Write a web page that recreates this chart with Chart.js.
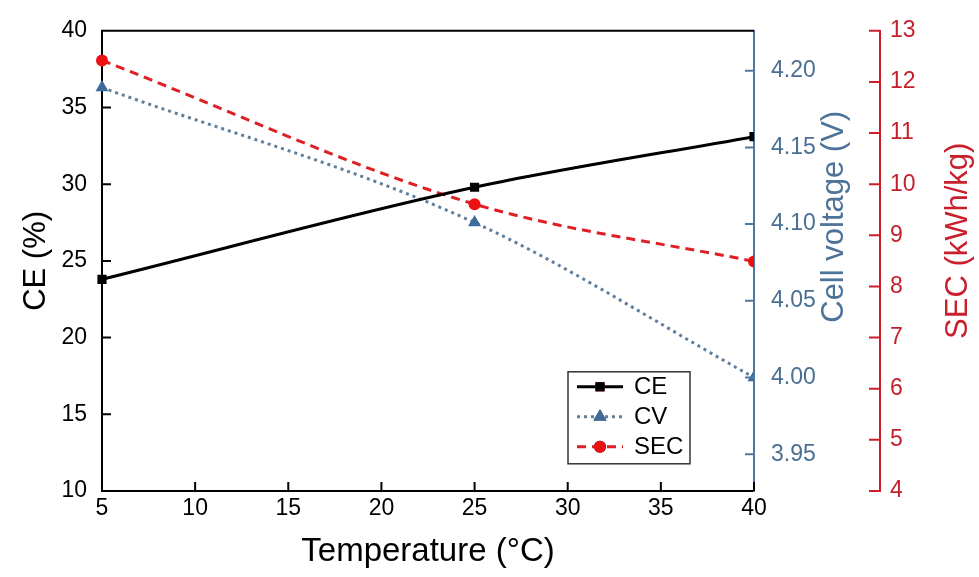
<!DOCTYPE html>
<html lang="en">
<head>
  <meta charset="UTF-8">
  <title>CE, cell voltage and SEC vs temperature</title>
  <script src="https://cdn.jsdelivr.net/npm/chart.js"></script>
  <style>
    body {
      margin: 0;
      background: #fff;
    }
    #wrap {
      width: 979px;
      height: 577px;
    }
  </style>
</head>
<body>
  <div id="wrap">
    <canvas id="grafico" width="979" height="577"></canvas>
  </div>

  <script>
    // datos
    const temperatures = [5, 25, 40];
    const ceValues = [23.8, 29.8, 33.1];
    const cvValues = [4.189, 4.101, 4.000];
    const secValues = [12.42, 9.61, 8.49];

    const voltageTicks = [3.95, 4.00, 4.05, 4.10, 4.15, 4.20];

    const FONT = "'Liberation Sans', Arial, sans-serif";
    const BLUE_AXIS = '#4f78a0';
    const RED_AXIS = '#cc1f2b';

    const toPoints = vals => temperatures.map((t, i) => ({ x: t, y: vals[i] }));

    // ticks hacia dentro, borde superior, títulos de la derecha y leyenda
    const decor = {
      id: 'decor',
      afterDraw(chart) {
        const ctx = chart.ctx;
        const area = chart.chartArea;
        const { x, y, yV, ySEC } = chart.scales;
        const len = 9;
        ctx.save();
        ctx.lineWidth = 2;

        ctx.strokeStyle = '#000';
        ctx.beginPath();
        ctx.moveTo(area.left - 1, area.top);
        ctx.lineTo(area.right, area.top);
        x.ticks.forEach(t => {
          const px = x.getPixelForValue(t.value);
          ctx.moveTo(px, area.bottom);
          ctx.lineTo(px, area.bottom - len);
        });
        y.ticks.forEach(t => {
          const py = y.getPixelForValue(t.value);
          ctx.moveTo(area.left, py);
          ctx.lineTo(area.left + len, py);
        });
        ctx.stroke();

        ctx.strokeStyle = BLUE_AXIS;
        ctx.beginPath();
        yV.ticks.forEach(t => {
          const py = yV.getPixelForValue(t.value);
          ctx.moveTo(area.right, py);
          ctx.lineTo(area.right - len, py);
        });
        ctx.stroke();

        ctx.strokeStyle = RED_AXIS;
        ctx.beginPath();
        ySEC.ticks.forEach(t => {
          const py = ySEC.getPixelForValue(t.value);
          ctx.moveTo(ySEC.left, py);
          ctx.lineTo(ySEC.left - 11, py);
        });
        ctx.stroke();

        // títulos de ejes derechos (leídos de abajo hacia arriba)
        ctx.font = '31px ' + FONT;
        ctx.textAlign = 'center';
        ctx.textBaseline = 'middle';
        ctx.fillStyle = '#4d7399';
        ctx.translate(yV.left + 80, area.top + 186);
        ctx.rotate(-Math.PI / 2);
        ctx.fillText(yV.options.title.text, 0, 0);
        ctx.setTransform(1, 0, 0, 1, 0, 0);
        ctx.fillStyle = '#c8202c';
        ctx.translate(ySEC.left + 78, area.top + 210);
        ctx.rotate(-Math.PI / 2);
        ctx.fillText(ySEC.options.title.text, 0, 0);
        ctx.setTransform(1, 0, 0, 1, 0, 0);

        // leyenda
        const lx = area.right - 186;
        const ly = area.top + 341;
        ctx.lineWidth = 1.5;
        ctx.strokeStyle = '#333';
        ctx.strokeRect(lx, ly, 122, 92);
        chart.data.datasets.forEach((ds, i) => {
          const cy = ly + 15 + i * 30;
          ctx.save();
          ctx.strokeStyle = ds.borderColor;
          ctx.lineWidth = ds.borderWidth;
          ctx.setLineDash(ds.borderDash || []);
          ctx.beginPath();
          ctx.moveTo(lx + 9, cy);
          ctx.lineTo(lx + 55, cy);
          ctx.stroke();
          ctx.restore();
          Chart.helpers.drawPoint(ctx, {
            pointStyle: ds.pointStyle,
            radius: ds.pointRadius,
            borderWidth: 0
          }, lx + 32, cy);
          ctx.fillStyle = ds.pointBackgroundColor;
          ctx.fill();
          ctx.fillStyle = '#000';
          ctx.font = '24px ' + FONT;
          ctx.textAlign = 'left';
          ctx.fillText(ds.label, lx + 66, cy + 1);
        });
        ctx.restore();
      }
    };

    const ctx = document.getElementById('grafico').getContext('2d');
    const grafico = new Chart(ctx, {
      type: 'line',
      data: {
        datasets: [
          {
            label: 'CE',
            data: toPoints(ceValues),
            yAxisID: 'y',
            borderColor: '#000',
            borderWidth: 3,
            pointStyle: 'rect',
            pointRadius: 6.5,
            pointBackgroundColor: '#000',
            pointBorderWidth: 0,
            cubicInterpolationMode: 'monotone'
          },
          {
            label: 'CV',
            data: toPoints(cvValues),
            yAxisID: 'yV',
            borderColor: '#5f7f9c',
            borderWidth: 3,
            borderDash: [3, 4],
            pointStyle: 'triangle',
            pointRadius: 7.5,
            pointBackgroundColor: '#3d6c9b',
            pointBorderWidth: 0,
            cubicInterpolationMode: 'monotone'
          },
          {
            label: 'SEC',
            data: toPoints(secValues),
            yAxisID: 'ySEC',
            borderColor: '#dd2026',
            borderWidth: 3,
            borderDash: [9, 6],
            pointStyle: 'circle',
            pointRadius: 6,
            pointBackgroundColor: '#ee1111',
            pointBorderWidth: 0,
            cubicInterpolationMode: 'monotone'
          }
        ]
      },
      options: {
        responsive: false,
        animation: false,
        layout: { padding: { top: 27, left: 0, right: 0, bottom: 0 } },
        plugins: {
          legend: { display: false },
          tooltip: { enabled: false }
        },
        elements: { point: { hitRadius: 0 } },
        datasets: { line: { clip: { left: 7, right: 0, top: 7, bottom: 7 } } },
        scales: {
          x: {
            type: 'linear',
            min: 5,
            max: 40,
            afterFit: s => { s.height = 86; },
            grid: { display: false, drawTicks: false },
            border: { display: true, color: '#000', width: 2 },
            ticks: {
              stepSize: 5,
              color: '#000',
              padding: 4,
              maxRotation: 0,
              autoSkip: false,
              font: { family: FONT, size: 23 }
            },
            title: {
              display: true,
              text: 'Temperature (°C)',
              color: '#000',
              padding: { top: 0, bottom: 5 },
              font: { family: FONT, size: 33 }
            }
          },
          y: {
            position: 'left',
            min: 10,
            max: 40,
            afterFit: s => { s.width = 102; },
            grid: { display: false, drawTicks: false },
            border: { display: true, color: '#000', width: 2 },
            ticks: {
              stepSize: 5,
              color: '#000',
              padding: 15,
              font: { family: FONT, size: 23 }
            },
            title: {
              display: true,
              text: 'CE (%)',
              color: '#000',
              padding: { top: 18, bottom: 0 },
              font: { family: FONT, size: 31 }
            }
          },
          yV: {
            position: 'right',
            weight: 0,
            min: 3.926,
            max: 4.226,
            afterFit: s => { s.width = 126; },
            afterBuildTicks: s => { s.ticks = voltageTicks.map(v => ({ value: v })); },
            grid: { display: false, drawTicks: false },
            border: { display: true, color: BLUE_AXIS, width: 2 },
            ticks: {
              color: '#4a6f93',
              padding: 17,
              font: { family: FONT, size: 23 },
              callback: v => v.toFixed(2)
            },
            title: { display: false, text: 'Cell voltage (V)' }
          },
          ySEC: {
            position: 'right',
            weight: 1,
            min: 4,
            max: 13,
            afterFit: s => { s.width = 99; },
            grid: { display: false, drawTicks: false },
            border: { display: true, color: RED_AXIS, width: 2 },
            ticks: {
              stepSize: 1,
              color: '#c41f2d',
              padding: 10,
              font: { family: FONT, size: 23 }
            },
            title: { display: false, text: 'SEC (kWh/kg)' }
          }
        }
      },
      plugins: [decor]
    });
  </script>
</body>
</html>
